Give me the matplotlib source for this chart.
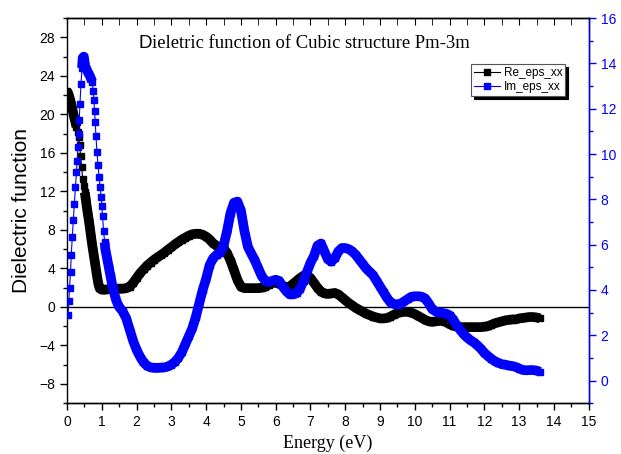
import numpy as np
import matplotlib
matplotlib.use("Agg")
import matplotlib.pyplot as plt
from matplotlib.ticker import MultipleLocator

# Real part of the dielectric function (left axis)
energy_re = [0.00, 0.03, 0.06, 0.09, 0.12, 0.15, 0.18, 0.21, 0.24, 0.27, 0.30, 0.33,
             0.36, 0.39, 0.42, 0.45, 0.48, 0.51, 0.54, 0.57, 0.60, 0.63, 0.66, 0.69,
             0.72, 0.75, 0.78, 0.81, 0.84, 0.87, 0.90, 0.93, 0.97, 1.0, 1.1, 1.2, 1.3,
             1.4, 1.5, 1.6, 1.7, 1.8, 1.9, 2.0, 2.1, 2.2, 2.3, 2.4, 2.5, 2.6, 2.7, 2.8,
             2.9, 3.0, 3.1, 3.2, 3.3, 3.4, 3.5, 3.6, 3.7, 3.8, 3.9, 4.0, 4.1, 4.2, 4.3,
             4.4, 4.5, 4.6, 4.7, 4.8, 4.9, 5.0, 5.1, 5.2, 5.3, 5.4, 5.5, 5.6, 5.7, 5.8,
             5.9, 6.0, 6.1, 6.2, 6.3, 6.4, 6.5, 6.6, 6.7, 6.8, 6.9, 7.0, 7.1, 7.2, 7.3,
             7.4, 7.5, 7.6, 7.7, 7.8, 7.9, 8.0, 8.1, 8.2, 8.3, 8.4, 8.5, 8.6, 8.7, 8.8,
             8.9, 9.0, 9.1, 9.2, 9.3, 9.4, 9.5, 9.6, 9.7, 9.8, 9.9, 10.0, 10.1, 10.2,
             10.3, 10.4, 10.5, 10.6, 10.7, 10.8, 10.9, 11.0, 11.1, 11.2, 11.3, 11.4,
             11.5, 11.6, 11.7, 11.8, 11.9, 12.0, 12.1, 12.2, 12.3, 12.4, 12.5, 12.6,
             12.7, 12.8, 12.9, 13.0, 13.1, 13.2, 13.3, 13.4, 13.5, 13.6]
re_eps = [22.4, 22.2, 21.9, 21.5, 21.1, 20.6, 20.1, 19.6, 19.2, 18.7, 18.2, 17.7,
          16.8, 15.7, 14.5, 13.3, 12.6, 11.9, 11.1, 10.3, 9.6, 8.9, 8.1, 7.3,
          6.5, 5.8, 5.1, 4.4, 3.7, 3.0, 2.4, 2.0, 1.85, 1.8, 1.8, 1.85, 1.9,
          1.9, 1.9, 1.9, 1.95, 2.1, 2.5, 3.0, 3.5, 3.9, 4.3, 4.6, 4.9, 5.15, 5.4, 5.65,
          5.95, 6.2, 6.5, 6.75, 7.0, 7.2, 7.4, 7.55, 7.6, 7.6, 7.5, 7.3, 7.0, 6.6, 6.35,
          6.2, 6.1, 5.6, 4.8, 3.8, 2.8, 2.1, 1.95, 1.95, 1.95, 1.95, 1.95, 2.0, 2.1, 2.3,
          2.5, 2.55, 2.4, 2.2, 2.05, 2.1, 2.4, 2.7, 3.0, 3.25, 3.3, 3.0, 2.5, 2.0, 1.6,
          1.4, 1.35, 1.4, 1.45, 1.3, 1.0, 0.7, 0.4, 0.15, -0.1, -0.3, -0.5, -0.7, -0.85, -1.0,
          -1.1, -1.2, -1.2, -1.15, -1.0, -0.8, -0.65, -0.55, -0.5, -0.5, -0.6, -0.75, -0.95, -1.15,
          -1.35, -1.5, -1.55, -1.5, -1.45, -1.45, -1.6, -1.8, -1.95, -2.05, -2.1, -2.1,
          -2.1, -2.1, -2.1, -2.1, -2.1, -2.05, -2.0, -1.85, -1.7, -1.6, -1.5, -1.4,
          -1.35, -1.3, -1.3, -1.2, -1.15, -1.1, -1.05, -1.05, -1.1, -1.2]

# Imaginary part of the dielectric function (right axis)
energy_im = [0.03, 0.05, 0.07, 0.10, 0.12, 0.15, 0.18, 0.21, 0.24, 0.27, 0.29, 0.31,
             0.33, 0.35, 0.37, 0.40, 0.43, 0.45, 0.48, 0.52, 0.57, 0.62, 0.67, 0.72,
             0.75, 0.77, 0.79, 0.81, 0.83, 0.86, 0.89, 0.92, 0.95, 0.98, 1.00, 1.02,
             1.05, 1.08, 1.10, 1.15, 1.2, 1.25, 1.3, 1.35, 1.4, 1.45, 1.5, 1.6, 1.7,
             1.8, 1.9, 2.0, 2.1, 2.2, 2.3, 2.4, 2.5, 2.6, 2.7, 2.8, 2.9, 3.0, 3.1, 3.2,
             3.3, 3.4, 3.5, 3.6, 3.7, 3.8, 3.9, 4.0, 4.1, 4.2, 4.3, 4.4, 4.5, 4.6, 4.7,
             4.8, 4.9, 5.0, 5.1, 5.2, 5.3, 5.4, 5.5, 5.6, 5.7, 5.8, 5.9, 6.0, 6.1, 6.2,
             6.3, 6.4, 6.5, 6.6, 6.7, 6.8, 6.9, 7.0, 7.1, 7.2, 7.3, 7.4, 7.5, 7.6, 7.7,
             7.8, 7.9, 8.0, 8.1, 8.2, 8.3, 8.4, 8.5, 8.6, 8.7, 8.8, 8.9, 9.0, 9.1, 9.2,
             9.3, 9.4, 9.5, 9.6, 9.7, 9.8, 9.9, 10.0, 10.1, 10.2, 10.3, 10.4, 10.5, 10.6,
             10.7, 10.8, 10.9, 11.0, 11.1, 11.2, 11.3, 11.4, 11.5, 11.6, 11.7, 11.8,
             11.9, 12.0, 12.1, 12.2, 12.3, 12.4, 12.5, 12.6, 12.7, 12.8, 12.9, 13.0,
             13.1, 13.2, 13.3, 13.4, 13.5, 13.6]
im_eps = [2.9, 3.5, 4.1, 4.8, 5.55, 6.35, 7.1, 7.8, 8.55, 9.2, 9.7, 10.3,
          10.9, 11.5, 12.2, 13.1, 13.8, 14.25, 14.3, 13.9, 13.7, 13.55, 13.4, 13.2,
          12.8, 12.4, 11.9, 11.4, 10.8, 10.1, 9.5, 9.0, 8.55, 8.1, 7.7, 7.25,
          6.6, 6.1, 5.8, 5.4, 5.0, 4.6, 4.2, 3.9, 3.6, 3.4, 3.25, 3.05, 2.75,
          2.25, 1.75, 1.35, 1.05, 0.8, 0.65, 0.58, 0.56, 0.56, 0.57, 0.58, 0.62, 0.7, 0.82, 1.0,
          1.25, 1.6, 1.95, 2.3, 2.8, 3.4, 4.0, 4.5, 5.1, 5.4, 5.55, 5.65, 5.95, 6.6, 7.4,
          7.85, 7.9, 7.5, 6.6, 5.9, 5.6, 5.3, 4.95, 4.6, 4.4, 4.35, 4.4, 4.45, 4.4, 4.15,
          3.95, 3.8, 3.8, 3.85, 4.05, 4.4, 4.8, 5.2, 5.5, 5.95, 6.05, 5.7, 5.35, 5.25, 5.4,
          5.7, 5.85, 5.85, 5.8, 5.7, 5.55, 5.35, 5.15, 4.95, 4.8, 4.65, 4.4, 4.15, 3.9, 3.65,
          3.45, 3.38, 3.35, 3.4, 3.5, 3.6, 3.7, 3.72, 3.72, 3.7, 3.62, 3.4, 3.15, 3.05,
          3.0, 2.98, 2.95, 2.88, 2.7, 2.45, 2.25, 2.05, 1.9, 1.78, 1.68, 1.55,
          1.4, 1.22, 1.08, 0.96, 0.85, 0.78, 0.72, 0.7, 0.66, 0.64, 0.6, 0.53,
          0.47, 0.45, 0.46, 0.46, 0.44, 0.38]

# Energy windows where the individual samples stand apart (drawn as loose squares)
loose_re = [(0.28, 0.49)]
loose_im = [(0.0, 0.42), (0.74, 1.06)]

BLUE = "#0000ff"
SANS = "Liberation Sans"
SERIF = "Liberation Serif"

fig = plt.figure(figsize=(6.21, 4.54), dpi=100)
ax = fig.add_axes([0.108, 0.112, 0.840, 0.848])
ax2 = ax.twinx()


def dense_only(x, y, windows):
    x = np.asarray(x, float)
    y = np.asarray(y, float).copy()
    for lo, hi in windows:
        y[(x > lo) & (x < hi)] = np.nan
    return y


MS = 5.0        # marker side in points
BAND = 7.0      # width of the merged band in points

ln_re, = ax.plot(energy_re, re_eps, color="black", lw=0.8, marker="s", ms=MS,
                 mec="black", mfc="black", label="Re_eps_xx", zorder=3)
ax.plot(energy_re, dense_only(energy_re, re_eps, loose_re), color="black",
        lw=BAND, solid_joinstyle="round", solid_capstyle="butt", zorder=3)

ln_im, = ax2.plot(energy_im, im_eps, color=BLUE, lw=0.8, marker="s", ms=MS,
                  mec=BLUE, mfc=BLUE, label="Im_eps_xx", zorder=3)
ax2.plot(energy_im, dense_only(energy_im, im_eps, loose_im), color=BLUE,
         lw=BAND, solid_joinstyle="round", solid_capstyle="butt", zorder=3)

ax.axhline(0, color="black", lw=1.0, zorder=2)

ax.set_xlim(0, 15)
ax.set_ylim(-10, 30)
ax2.set_ylim(-1, 16)

ax.xaxis.set_major_locator(MultipleLocator(1))
ax.xaxis.set_minor_locator(MultipleLocator(0.5))
ax.yaxis.set_major_locator(MultipleLocator(4))
ax.yaxis.set_minor_locator(MultipleLocator(2))
ax2.yaxis.set_major_locator(MultipleLocator(2))
ax2.yaxis.set_minor_locator(MultipleLocator(1))

ax.tick_params(axis="both", which="major", direction="out", length=5, width=1,
               labelsize=10)
ax.tick_params(axis="both", which="minor", direction="out", length=3, width=1)
ax2.tick_params(axis="y", which="major", direction="out", length=5, width=1,
                colors=BLUE, labelsize=10)
ax2.tick_params(axis="y", which="minor", direction="out", length=3, width=1,
                colors=BLUE)

top = ax.secondary_xaxis("top")
top.xaxis.set_major_locator(MultipleLocator(1))
top.xaxis.set_minor_locator(MultipleLocator(0.5))
top.tick_params(which="both", direction="in", length=5, labeltop=False)

for a in (ax, ax2):
    for s in a.spines.values():
        s.set_linewidth(1.0)
ax2.spines["right"].set_color(BLUE)
ax2.spines["left"].set_visible(False)

for lab in ax.get_xticklabels() + ax.get_yticklabels() + ax2.get_yticklabels():
    lab.set_fontfamily(SANS)

ax.set_ylabel("Dielectric function", family=SANS, fontsize=15, labelpad=6)
ax.set_xlabel("Energy (eV)", family=SERIF, fontsize=13, labelpad=4)

# Title: sans-serif initial followed by the serif remainder
fig.canvas.draw()
title_y = 0.922
t0 = ax.text(0.136, title_y, "D", transform=ax.transAxes, family=SANS,
             fontsize=13.5, va="baseline", ha="left")
fig.canvas.draw()
bb = t0.get_window_extent()
x_next = ax.transAxes.inverted().transform((bb.x1, bb.y0))[0]
ax.text(x_next, title_y, "ieletric function of Cubic structure Pm-3m",
        transform=ax.transAxes, family=SERIF, fontsize=13.4, va="baseline",
        ha="left")

leg = ax.legend(handles=[ln_re, ln_im], loc="upper left",
                bbox_to_anchor=(0.775, 0.88), frameon=True, fancybox=False,
                shadow={"color": "black", "alpha": 1.0},
                prop={"family": SANS, "size": 8.5}, handlelength=2.2,
                handletextpad=0.3, borderpad=0.25, labelspacing=0.15,
                borderaxespad=0, markerscale=0.8)
leg.get_frame().set_edgecolor("#555555")
leg.get_frame().set_linewidth(0.8)
leg.set_zorder(10)

fig.savefig("out.png", dpi=100)
